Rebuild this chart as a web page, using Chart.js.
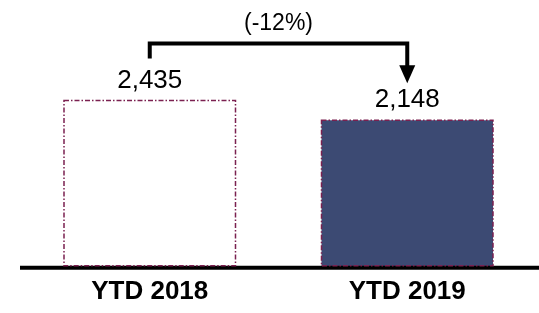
<!DOCTYPE html>
<html>
<head>
<meta charset="utf-8">
<script src="https://cdn.jsdelivr.net/npm/chart.js@4"></script>
<style>
  html, body { margin: 0; padding: 0; background: #fff; }
  #wrap { width: 539px; height: 313px; position: relative; }
</style>
</head>
<body>
<div id="wrap"><canvas id="ytdChart"></canvas></div>
<script>
// dati del grafico
const categories = ['YTD 2018', 'YTD 2019'];
const values = [2435, 2148];
const barColors = ['#ffffff', '#3c4a73'];
const borderColor = '#7b2150';
const FONT = '"Liberation Sans", Arial, sans-serif';

// bordo tratto-punto delle barre, etichette valore e freccia di variazione
const decorPlugin = {
    id: 'decor',
    afterDatasetsDraw(chart) {
        const ctx = chart.ctx;
        const bars = chart.getDatasetMeta(0).data;
        const area = chart.chartArea;

        ctx.save();
        // linea di base
        ctx.strokeStyle = '#000';
        ctx.lineWidth = 4;
        ctx.beginPath();
        ctx.moveTo(area.left - 1, area.bottom);
        ctx.lineTo(chart.width, area.bottom);
        ctx.stroke();

        // bordi tratteggiati
        ctx.strokeStyle = borderColor;
        ctx.lineWidth = 1.5;
        ctx.setLineDash([5, 2, 1.5, 2]);
        bars.forEach(b => {
            const x0 = b.x - b.width / 2;
            ctx.strokeRect(x0, b.y, b.width, b.base - b.y - 2);
        });
        ctx.setLineDash([]);

        // etichette dei valori
        ctx.fillStyle = '#000';
        ctx.font = '26px ' + FONT;
        ctx.textAlign = 'center';
        ctx.textBaseline = 'alphabetic';
        bars.forEach((b, i) => {
            ctx.fillText(values[i].toLocaleString('en-US'), b.x, b.y - 13);
        });

        // freccia tra le due barre
        const a = bars[0], c = bars[1];
        const yTop = a.y - 57;
        ctx.strokeStyle = '#000';
        ctx.lineWidth = 4;
        ctx.beginPath();
        ctx.moveTo(a.x, a.y - 42);
        ctx.lineTo(a.x, yTop);
        ctx.lineTo(c.x, yTop);
        ctx.lineTo(c.x, c.y - 54);
        ctx.stroke();
        const tip = c.y - 37;
        ctx.beginPath();
        ctx.moveTo(c.x - 8, tip - 18);
        ctx.lineTo(c.x + 8, tip - 18);
        ctx.lineTo(c.x, tip);
        ctx.closePath();
        ctx.fill();

        const pct = Math.round((values[1] / values[0] - 1) * 100);
        ctx.font = '23px ' + FONT;
        ctx.fillText('(' + pct + '%)', (a.x + c.x) / 2, yTop - 14);
        ctx.restore();
    }
};

new Chart(document.getElementById('ytdChart'), {
    type: 'bar',
    data: {
        labels: categories,
        datasets: [{
            data: values,
            backgroundColor: barColors,
            borderWidth: 0,
            barPercentage: 0.666,
            categoryPercentage: 1
        }]
    },
    options: {
        responsive: true,
        maintainAspectRatio: false,
        animation: false,
        layout: { padding: { left: 21, right: 3, top: 0, bottom: -2 } },
        plugins: {
            legend: { display: false },
            tooltip: { enabled: false }
        },
        scales: {
            x: {
                grid: { display: false, drawTicks: false },
                border: { display: false },
                ticks: {
                    color: '#000',
                    padding: 8,
                    font: { family: FONT, size: 26, weight: 'bold' }
                }
            },
            y: {
                display: false,
                min: 0,
                max: 3900
            }
        }
    },
    plugins: [decorPlugin]
});
</script>
</body>
</html>
